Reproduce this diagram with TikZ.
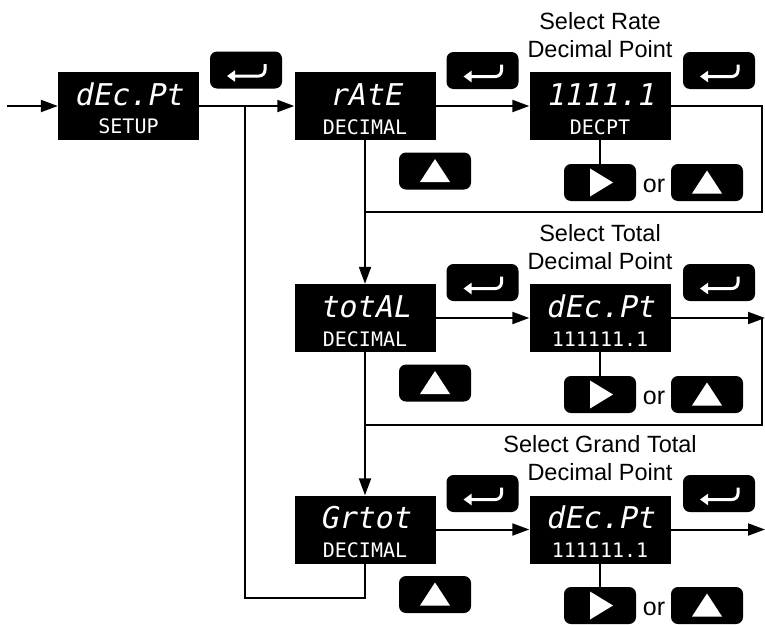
\documentclass[tikz,border=0pt]{standalone}
\usepackage{fontspec}
\setmainfont{Liberation Sans}
\newfontfamily\segfont{DejaVu Sans Mono}[FakeSlant=0.2]
\newfontfamily\smallseg{DejaVu Sans Mono}
\usetikzlibrary{arrows.meta,calc}
\tikzset{
  disp/.style={fill=black, minimum width=141pt, minimum height=68pt, inner sep=0pt},
  segtop/.style={text=white, font=\segfont\fontsize{30}{30}\selectfont, anchor=base, inner sep=0pt},
  segbot/.style={text=white, font=\smallseg\fontsize{20}{20}\selectfont, anchor=base, inner sep=0pt},
  btn/.style={fill=black, rounded corners=7pt, minimum width=72pt, minimum height=37pt, inner sep=0pt},
  conn/.style={line width=2pt},
  arr/.style={conn, -{Triangle[length=17pt,width=12pt]}},
  lbl/.style={font=\fontsize{23.5}{28}\selectfont, align=center, inner sep=0pt, anchor=north},
  ortext/.style={font=\fontsize{25}{25}\selectfont, anchor=base, inner sep=0pt},
}
\newcommand\entersym[1]{%
  \draw[white, line width=3pt, rounded corners=6pt, -{Triangle[length=8pt,width=11pt]}]
    ($(#1)+(19,-6)$) |- ($(#1)+(-19,6)$);}
\newcommand\upsym[1]{%
  \fill[white] ($(#1)+(0,-12)$) -- ($(#1)+(15,11)$) -- ($(#1)+(-15,11)$) -- cycle;}
\newcommand\rightsym[1]{%
  \fill[white] ($(#1)+(13,0)$) -- ($(#1)+(-10,-14)$) -- ($(#1)+(-10,14)$) -- cycle;}
\begin{document}
\begin{tikzpicture}[x=1pt,y=-1pt]
\useasboundingbox (0,0) rectangle (765,624);

% ---------- display boxes ----------
\node[disp] (b1) at (128.5,106) {};
\node[segtop] (b1t) at (128.5,105) {dEc.Pt};
\node[segbot] (b1b) at (128.5,133) {SETUP};

\node[disp] (ra) at (365,106) {};
\node[segtop] (rat) at (365,105) {rAtE};
\node[segbot] (rab) at (365,134) {DECIMAL};

\node[disp] (d1) at (600,106) {};
\node[segtop] (d1t) at (600,105) {1111.1};
\node[segbot] (d1b) at (600,134) {DECPT};

\node[disp] (to) at (365,318) {};
\node[segtop] (tot) at (365,317) {totAL};
\node[segbot] (tob) at (365,346) {DECIMAL};

\node[disp] (d2) at (600,318) {};
\node[segtop] (d2t) at (600,317) {dEc.Pt};
\node[segbot] (d2b) at (600,346) {111111.1};

\node[disp] (gr) at (365,529.5) {};
\node[segtop] (grt) at (365,528.5) {Grtot};
\node[segbot] (grb) at (365,557.5) {DECIMAL};

\node[disp] (d3) at (600,529.5) {};
\node[segtop] (d3t) at (600,528.5) {dEc.Pt};
\node[segbot] (d3b) at (600,557.5) {111111.1};

% ---------- labels ----------
\node[lbl] (l1) at (600,12) {Select Rate\\Decimal Point};
\node[lbl] (l2) at (600,224) {Select Total\\Decimal Point};
\node[lbl] (l3) at (600,435) {Select Grand Total\\Decimal Point};

% ---------- enter buttons ----------
\node[btn] (e0) at (246,70) {};     \entersym{e0}
\node[btn] (e1a) at (482.5,70.5) {}; \entersym{e1a}
\node[btn] (e1b) at (719,70.5) {};   \entersym{e1b}
\node[btn] (e2a) at (482.5,282.5) {}; \entersym{e2a}
\node[btn] (e2b) at (719,282.5) {};   \entersym{e2b}
\node[btn] (e3a) at (482.5,493.5) {}; \entersym{e3a}
\node[btn] (e3b) at (719,493.5) {};   \entersym{e3b}

% ---------- up buttons below left boxes ----------
\node[btn] (u1) at (435,171) {}; \upsym{u1}
\node[btn] (u2) at (435,383) {}; \upsym{u2}
\node[btn] (u3) at (435,594.5) {}; \upsym{u3}

% ---------- right / or / up ----------
\node[btn] (rb1) at (600,182.5) {}; \rightsym{rb1}
\node[ortext] (o1) at (654,192) {or};
\node[btn] (ub1) at (707,182.5) {}; \upsym{ub1}

\node[btn] (rb2) at (600,394.5) {}; \rightsym{rb2}
\node[ortext] (o2) at (654,404) {or};
\node[btn] (ub2) at (707,394.5) {}; \upsym{ub2}

\node[btn] (rb3) at (600,605.5) {}; \rightsym{rb3}
\node[ortext] (o3) at (654,615) {or};
\node[btn] (ub3) at (707,605.5) {}; \upsym{ub3}

% ---------- connectors ----------
\coordinate (in) at (7,106);
\coordinate (j1) at (245,106);
\coordinate (lb) at (245,598);
\coordinate (r1a) at (762,106);
\coordinate (r1b) at (762,212);
\coordinate (r1c) at (ra.south |- r1b);
\coordinate (r2a) at (765,318);
\coordinate (r2v) at (762,318);
\coordinate (r2b) at (762,425);
\coordinate (r2c) at (to.south |- r2b);
\coordinate (r3a) at (765,529.5);

\draw[arr] (in) -- (b1.west);
\draw[arr] (b1.east) -- (ra.west);
\draw[conn] (gr.south) |- (lb) -- (j1);
\draw[arr] (ra.east) -- (d1.west);
\draw[conn] (d1.east) -- (r1a) -- (r1b) -- (r1c);
\draw[arr] (ra.south) -- (to.north);
\draw[conn] (d1.south) -- (rb1.north);

\draw[arr] (to.east) -- (d2.west);
\draw[arr] (d2.east) -- (r2a);
\draw[conn] (r2v) -- (r2b) -- (r2c);
\draw[arr] (to.south) -- (gr.north);
\draw[conn] (d2.south) -- (rb2.north);

\draw[arr] (gr.east) -- (d3.west);
\draw[arr] (d3.east) -- (r3a);
\draw[conn] (d3.south) -- (rb3.north);
\end{tikzpicture}
\end{document}
